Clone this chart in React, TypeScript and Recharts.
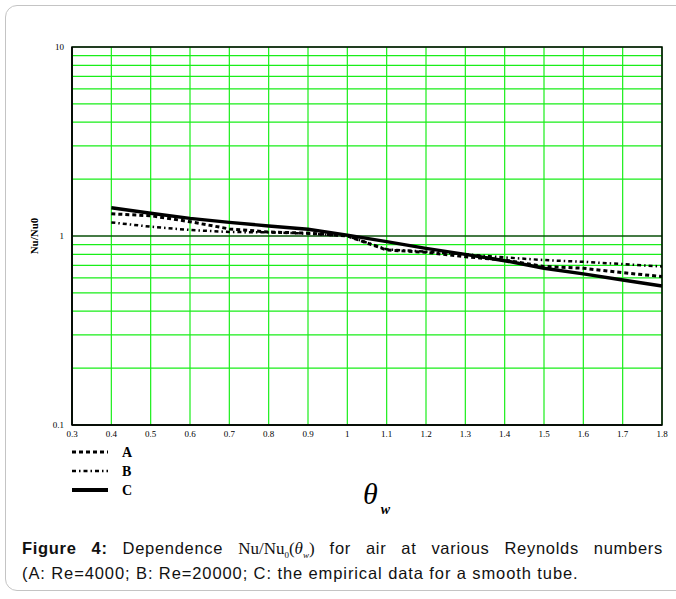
import { CartesianGrid, Label, Line, LineChart, ReferenceArea, ReferenceLine, XAxis, YAxis } from 'recharts'

const thetaW = [0.4, 0.5, 0.6, 0.7, 0.8, 0.9, 1.0, 1.1, 1.2, 1.3, 1.4, 1.5, 1.6, 1.7, 1.8]
const seriesA = [1.31, 1.28, 1.19, 1.09, 1.05, 1.035, 1.0, 0.843, 0.82, 0.777, 0.746, 0.69, 0.675, 0.64, 0.61]
const seriesB = [1.18, 1.12, 1.076, 1.05, 1.045, 1.03, 1.0, 0.85, 0.826, 0.8, 0.77, 0.746, 0.73, 0.71, 0.69]
const seriesC = [1.41, 1.32, 1.24, 1.18, 1.13, 1.085, 1.01, 0.933, 0.86, 0.8, 0.74, 0.675, 0.63, 0.585, 0.544]

const xTicks = [0.3, 0.4, 0.5, 0.6, 0.7, 0.8, 0.9, 1, 1.1, 1.2, 1.3, 1.4, 1.5, 1.6, 1.7, 1.8]
const yTicks = [0.1, 0.2, 0.3, 0.4, 0.5, 0.6, 0.7, 0.8, 0.9, 1, 2, 3, 4, 5, 6, 7, 8, 9, 10]
const yLabelled = [0.1, 1, 10]

const data = thetaW.map((x, i) => ({ x, A: seriesA[i], B: seriesB[i], C: seriesC[i] }))

const green = '#19ee19'
const serif = '"Liberation Serif", "Times New Roman", serif'
const sans = '"Liberation Sans", Arial, sans-serif'

const legendItems = [
  { key: 'A', dash: '4 3', width: 3 },
  { key: 'B', dash: '4 3 1.5 3', width: 2.5 },
  { key: 'C', dash: undefined, width: 4 },
]

export default function App() {
  return (
    <div style={{ position: 'absolute', left: 0, top: 0, width: 676, height: 599, background: '#fff', overflow: 'hidden' }}>
      <div
        style={{
          position: 'absolute',
          left: 5,
          top: 5,
          width: 690,
          height: 584,
          border: '1px solid #c4c4c4',
          borderRadius: 12,
        }}
      />
      <LineChart
        width={676}
        height={460}
        data={data}
        margin={{ top: 47, right: 14, bottom: 15, left: 32 }}
        style={{ position: 'absolute', left: 0, top: 0 }}
      >
        <CartesianGrid stroke={green} strokeWidth={1.2} />
        <XAxis
          dataKey="x"
          type="number"
          domain={[0.3, 1.8]}
          ticks={xTicks}
          interval={0}
          height={20}
          tickLine={false}
          axisLine={{ stroke: '#000', strokeWidth: 1.5 }}
          tick={{ fontSize: 9, fill: '#000', fontFamily: serif }}
          tickMargin={0}
        />
        <YAxis
          scale="log"
          domain={[0.1, 10]}
          allowDataOverflow
          ticks={yTicks}
          interval={0}
          width={40}
          tickLine={false}
          axisLine={{ stroke: '#000', strokeWidth: 1.5 }}
          tick={{ fontSize: 9, fill: '#000', fontFamily: serif }}
          tickFormatter={(v: number) => (yLabelled.includes(v) ? String(v) : '')}
        >
          <Label
            content={({ viewBox }: any) => (
              <text
                x={viewBox.x + 2}
                y={viewBox.y + viewBox.height / 2}
                transform={`rotate(-90 ${viewBox.x + 2} ${viewBox.y + viewBox.height / 2})`}
                textAnchor="middle"
                dominantBaseline="central"
                fontFamily={serif}
                fontWeight="bold"
                fontSize={11}
                fill="#000"
              >
                Nu/Nu0
              </text>
            )}
          />
        </YAxis>
        <ReferenceLine y={1} stroke="#000" strokeWidth={1} />
        <ReferenceArea x1={0.3} x2={1.8} y1={0.1} y2={10} fill="none" stroke="#000" strokeWidth={1.5} />
        <Line dataKey="C" stroke="#000" strokeWidth={3.4} dot={false} isAnimationActive={false} />
        <Line dataKey="A" stroke="#000" strokeWidth={3} strokeDasharray="4 3" dot={false} isAnimationActive={false} />
        <Line dataKey="B" stroke="#000" strokeWidth={2.5} strokeDasharray="4 3 1.5 3" dot={false} isAnimationActive={false} />
      </LineChart>

      <svg width={120} height={60} style={{ position: 'absolute', left: 70, top: 440 }}>
        {legendItems.map((it, i) => (
          <g key={it.key}>
            <line
              x1={2}
              x2={38}
              y1={12 + i * 19}
              y2={12 + i * 19}
              stroke="#000"
              strokeWidth={it.width}
              strokeDasharray={it.dash}
            />
            <text x={52} y={12 + i * 19} dominantBaseline="central" fontFamily={serif} fontWeight="bold" fontSize={14} fill="#000">
              {it.key}
            </text>
          </g>
        ))}
      </svg>

      <div style={{ position: 'absolute', left: 363, top: 479, fontFamily: serif, fontStyle: 'italic', fontSize: 30, color: '#000', lineHeight: 1 }}>
        θ
        <span style={{ fontSize: 14, fontWeight: 'bold', position: 'relative', top: 10, marginLeft: 3 }}>w</span>
      </div>

      <div
        style={{
          position: 'absolute',
          left: 22,
          top: 537,
          width: 641,
          fontFamily: sans,
          fontSize: 16.5,
          letterSpacing: 0.9,
          lineHeight: '22px',
          color: '#111',
        }}
      >
        <div style={{ whiteSpace: 'nowrap' as const, display: 'flex', justifyContent: 'space-between', alignItems: 'baseline', letterSpacing: 0.7 }}>
          <span><b>Figure</b></span>
          <span><b>4:</b></span>
          <span>Dependence</span>
          <span style={{ fontFamily: serif, fontSize: 17, letterSpacing: 0 }}>
            Nu/Nu<span style={{ fontSize: 9, position: 'relative', top: 4 }}>0</span>(<i>θ</i>
            <span style={{ fontSize: 9, position: 'relative', top: 4 }}>
              <i>w</i>
            </span>
            )
          </span>
          <span>for</span>
          <span>air</span>
          <span>at</span>
          <span>various</span>
          <span>Reynolds</span>
          <span>numbers</span>
        </div>
        <div>(A: Re=4000; B: Re=20000; C: the empirical data for a smooth tube.</div>
      </div>
    </div>
  )
}
